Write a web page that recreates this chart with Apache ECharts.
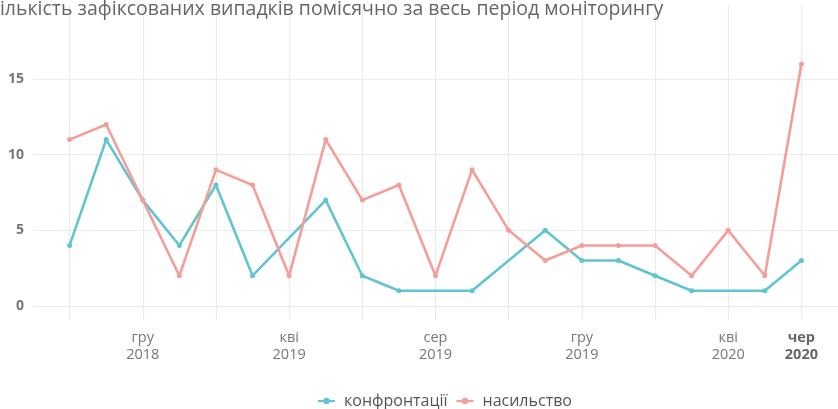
<!DOCTYPE html>
<html>
<head>
<meta charset="utf-8">
<script src="https://cdn.jsdelivr.net/npm/echarts@6/dist/echarts.min.js"></script>
<style>
  html, body { margin: 0; padding: 0; background: #fff; }
  #chart { width: 838px; height: 409px; }
</style>
</head>
<body>
<div id="chart"></div>
<script>
// місяці з вер 2018 по лип 2020 (крайні - порожні поля)
const months = ['вер', 'жов', 'лис', 'гру', 'січ', 'лют', 'бер', 'кві', 'тра', 'чер', 'лип', 'сер',
  'вер', 'жов', 'лис', 'гру', 'січ', 'лют', 'бер', 'кві', 'тра', 'чер', 'лип'];
const years = ['2018', '2018', '2018', '2018', '2019', '2019', '2019', '2019', '2019', '2019', '2019', '2019',
  '2019', '2019', '2019', '2019', '2020', '2020', '2020', '2020', '2020', '2020', '2020'];
const labelIdx = [3, 7, 11, 15, 19, 21];
const yTicks = [0, 5, 10, 15];

const confrontation = [null, 4, 11, 7, 4, 8, 2, null, 7, 2, 1, null,
  1, null, 5, 3, 3, 2, 1, null, 1, 3, null];
const violence = [null, 11, 12, 7, 2, 9, 8, 2, 11, 7, 8, 2,
  9, 5, 3, 4, 4, 4, 2, 5, 2, 16, null];

const FONT = '"Open Sans", "Noto Sans", sans-serif';
const chart = echarts.init(document.getElementById('chart'));

chart.setOption({
  animation: false,
  textStyle: { fontFamily: FONT },
  title: {
    text: 'Кількість зафіксованих випадків помісячно за весь період моніторингу',
    left: -17,
    top: -6,
    textStyle: { fontSize: 19.5, fontWeight: 'normal', color: '#666', fontFamily: FONT }
  },
  grid: { left: 33, right: 0, top: 5, bottom: 89 },
  legend: {
    bottom: 0,
    left: 317,
    padding: 0,
    itemWidth: 17,
    itemHeight: 8,
    itemGap: 8,
    textStyle: { fontSize: 16, color: '#555', padding: [0, 0, 0, 4] },
    data: ['конфронтації', 'насильство']
  },
  xAxis: {
    type: 'category',
    boundaryGap: false,
    data: months,
    axisLine: { show: false },
    axisTick: { show: false },
    splitLine: {
      show: true,
      interval: (i) => i % 2 === 1,
      lineStyle: { color: '#ebebeb', width: 1.2 }
    },
    axisLabel: {
      interval: (i) => labelIdx.includes(i),
      margin: 9,
      color: '#777',
      fontSize: 14.5,
      lineHeight: 17,
      formatter: (v, i) => i === 21 ? '{b|' + v + '}\n{b|' + years[i] + '}' : v + '\n' + years[i],
      rich: {
        b: { fontWeight: 'bold', color: '#666', fontSize: 14.5, lineHeight: 17 }
      }
    }
  },
  yAxis: {
    type: 'value',
    min: -0.93,
    max: 19.9,
    axisLine: { show: false },
    axisTick: { show: false, customValues: yTicks },
    axisLabel: {
      customValues: yTicks,
      margin: 9,
      color: '#777',
      fontSize: 14,
      fontWeight: 'bold'
    },
    splitLine: { lineStyle: { color: '#ebebeb', width: 1.2 } }
  },
  series: [
    {
      name: 'конфронтації',
      type: 'line',
      data: confrontation,
      connectNulls: true,
      symbol: 'circle',
      symbolSize: 5,
      color: '#62c4cf',
      lineStyle: { width: 2.6 }
    },
    {
      name: 'насильство',
      type: 'line',
      data: violence,
      connectNulls: true,
      symbol: 'circle',
      symbolSize: 5,
      color: '#f49e9a',
      lineStyle: { width: 2.6 }
    }
  ]
});
</script>
</body>
</html>
